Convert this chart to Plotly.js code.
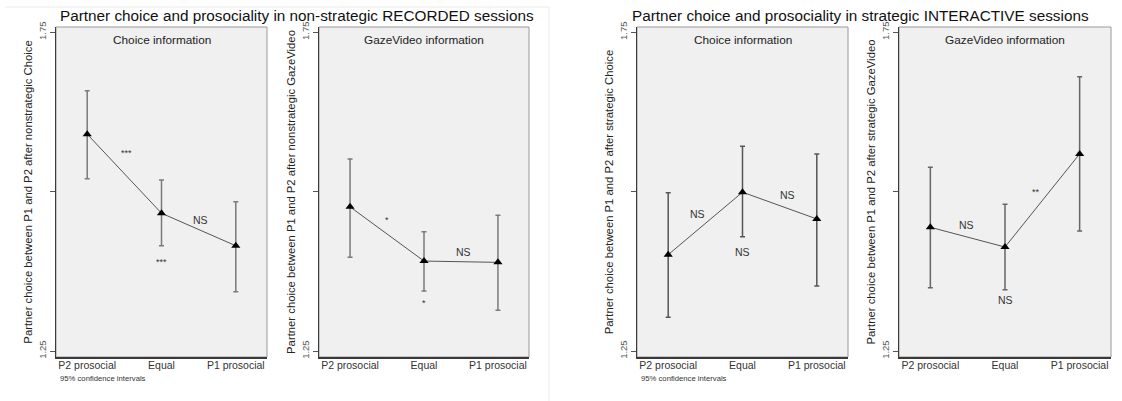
<!DOCTYPE html>
<html>
<head>
<meta charset="utf-8">
<script src="https://cdn.plot.ly/plotly-3.0.1.min.js"></script>
<style>html,body{margin:0;padding:0;background:#fff;}#chart{width:1122px;height:401px;}</style>
</head>
<body>
<div id="chart"></div>
<script>
// ---- data ----
const categories = ["P2 prosocial", "Equal", "P1 prosocial"];
const panelTitles = ["Choice information", "GazeVideo information", "Choice information", "GazeVideo information"];
const yTitles = [
  "Partner choice between P1 and P2 after nonstrategic Choice",
  "Partner choice between P1 and P2 after nonstrategic GazeVideo",
  "Partner choice between P1 and P2 after strategic Choice",
  "Partner choice between P1 and P2 after strategic GazeVideo"
];
const mainTitles = [
  "Partner choice and prosociality in non-strategic RECORDED sessions",
  "Partner choice and prosociality in strategic INTERACTIVE sessions"
];
// means and 95% CI bounds per panel
const meanRecChoice = [1.590, 1.466, 1.415];
const lowRecChoice  = [1.520, 1.415, 1.343];
const highRecChoice = [1.658, 1.518, 1.484];

const meanRecGaze = [1.476, 1.391, 1.389];
const lowRecGaze  = [1.397, 1.344, 1.314];
const highRecGaze = [1.551, 1.437, 1.463];

const meanIntChoice = [1.401, 1.499, 1.457];
const lowIntChoice  = [1.303, 1.429, 1.352];
const highIntChoice = [1.498, 1.571, 1.559];

const meanIntGaze = [1.444, 1.413, 1.559];
const lowIntGaze  = [1.349, 1.346, 1.438];
const highIntGaze = [1.538, 1.480, 1.680];

const yTickVals = [1.25, 1.5, 1.75];
const yTickText = ["1.25", "", "1.75"];

// significance labels: [text, x (category index), y value]
const sigRecChoice = [["***", 0.53, 1.56], ["***", 1, 1.39], ["NS", 1.53, 1.455]];
const sigRecGaze   = [["*", 0.5, 1.455], ["*", 1, 1.325], ["NS", 1.53, 1.405]];
const sigIntChoice = [["NS", 0.39, 1.465], ["NS", 1, 1.405], ["NS", 1.6, 1.495]];
const sigIntGaze   = [["NS", 0.49, 1.448], ["NS", 1, 1.33], ["**", 1.42, 1.5]];

// ---- build ----
const W = 1122, H = 401;
const panels = [
  {mean: meanRecChoice, low: lowRecChoice, high: highRecChoice, sig: sigRecChoice, x0: 56, x1: 267, ebColor: "#7a7a7a"},
  {mean: meanRecGaze, low: lowRecGaze, high: highRecGaze, sig: sigRecGaze, x0: 319, x1: 529, ebColor: "#7a7a7a"},
  {mean: meanIntChoice, low: lowIntChoice, high: highIntChoice, sig: sigIntChoice, x0: 637, x1: 848, ebColor: "#555555"},
  {mean: meanIntGaze, low: lowIntGaze, high: highIntGaze, sig: sigIntGaze, x0: 899, x1: 1111, ebColor: "#666666"}
];
const yTop = 27, yBot = 357;
const xIdx = categories.map((c, i) => i);

const traces = [];
const layout = {
  width: W, height: H,
  margin: {l: 0, r: 0, t: 0, b: 0},
  paper_bgcolor: "#ffffff",
  plot_bgcolor: "#f0f0f0",
  showlegend: false,
  font: {family: "Liberation Sans, Arial, sans-serif", color: "#333"},
  annotations: [],
  shapes: []
};

panels.forEach((p, i) => {
  const n = i + 1;
  const xa = n === 1 ? "x" : "x" + n;
  const ya = n === 1 ? "y" : "y" + n;
  traces.push({
    type: "scatter", mode: "lines+markers",
    x: xIdx, y: p.mean, xaxis: xa, yaxis: ya,
    line: {color: "#555555", width: 1},
    marker: {symbol: "triangle-up", size: 8, color: "#000000"},
    error_y: {
      type: "data", symmetric: false,
      array: p.high.map((h, k) => h - p.mean[k]),
      arrayminus: p.low.map((l, k) => p.mean[k] - l),
      color: p.ebColor, thickness: 1.5, width: 2.5
    },
    hoverinfo: "skip"
  });
  const dom = [p.x0 / W, p.x1 / W];
  layout["xaxis" + (n === 1 ? "" : n)] = {
    domain: dom, anchor: ya,
    range: [-0.42, 2.42],
    tickvals: xIdx, ticktext: categories,
    ticks: "", showgrid: false, zeroline: false,
    showline: true, linecolor: "#3a3a3a", linewidth: 1.5,
    tickfont: {size: 10.5, color: "#333"},
    ticklabelstandoff: -2,
    fixedrange: true
  };
  layout["yaxis" + (n === 1 ? "" : n)] = {
    domain: [1 - yBot / H, 1 - yTop / H], anchor: xa,
    range: [1.2406, 1.758],
    tickvals: yTickVals, ticktext: yTickText,
    tickangle: -90,
    ticks: "outside", ticklen: 5, tickcolor: "#555", tickwidth: 1,
    tickfont: {size: 9.5, color: "#555"},
    showgrid: false, zeroline: false,
    showline: true, linecolor: "#3a3a3a", linewidth: 1.5,
    title: {text: yTitles[i], font: {size: 11.3, color: "#222"}, standoff: 1},
    fixedrange: true
  };
  // frame (top/right lighter)
  layout.shapes.push({
    type: "rect", xref: "paper", yref: "paper",
    x0: dom[0], x1: dom[1], y0: 1 - yBot / H, y1: 1 - yTop / H,
    line: {color: "#9a9a9a", width: 1}, layer: "below"
  });
  // panel subtitle
  layout.annotations.push({
    xref: "paper", yref: "paper",
    x: (dom[0] + dom[1]) / 2, y: 1 - 40 / H,
    text: panelTitles[i], showarrow: false,
    xanchor: "center", yanchor: "middle",
    font: {size: 11.8, color: "#222"}
  });
  p.sig.forEach(s => {
    layout.annotations.push({
      xref: xa, yref: ya, x: s[1], y: s[2], text: s[0],
      showarrow: false, xanchor: "center", yanchor: "middle",
      font: {size: s[0] === "NS" ? 10.5 : 9, color: "#333"}
    });
  });
});

// main titles
layout.annotations.push({
  xref: "paper", yref: "paper", x: 296.5 / W, y: 1 - 15 / H,
  text: mainTitles[0], showarrow: false, xanchor: "center", yanchor: "middle",
  font: {size: 15.3, color: "#111"}
});
layout.annotations.push({
  xref: "paper", yref: "paper", x: 860 / W, y: 1 - 15 / H,
  text: mainTitles[1], showarrow: false, xanchor: "center", yanchor: "middle",
  font: {size: 15.3, color: "#111"}
});
// notes
[58, 639].forEach(px => {
  layout.annotations.push({
    xref: "paper", yref: "paper", x: px / W, y: 1 - 378 / H,
    text: "95% confidence intervals", showarrow: false,
    xanchor: "left", yanchor: "middle",
    font: {size: 7.7, color: "#333"}
  });
});
// faint outer frame of left figure
layout.shapes.push({type: "line", xref: "paper", yref: "paper", x0: 5 / W, x1: 549 / W, y0: 1 - 7 / H, y1: 1 - 7 / H, line: {color: "#ececec", width: 1}});
layout.shapes.push({type: "line", xref: "paper", yref: "paper", x0: 549 / W, x1: 549 / W, y0: 1 - 7 / H, y1: 0, line: {color: "#ececec", width: 1}});

Plotly.newPlot("chart", traces, layout, {displayModeBar: false, staticPlot: true});
</script>
</body>
</html>
